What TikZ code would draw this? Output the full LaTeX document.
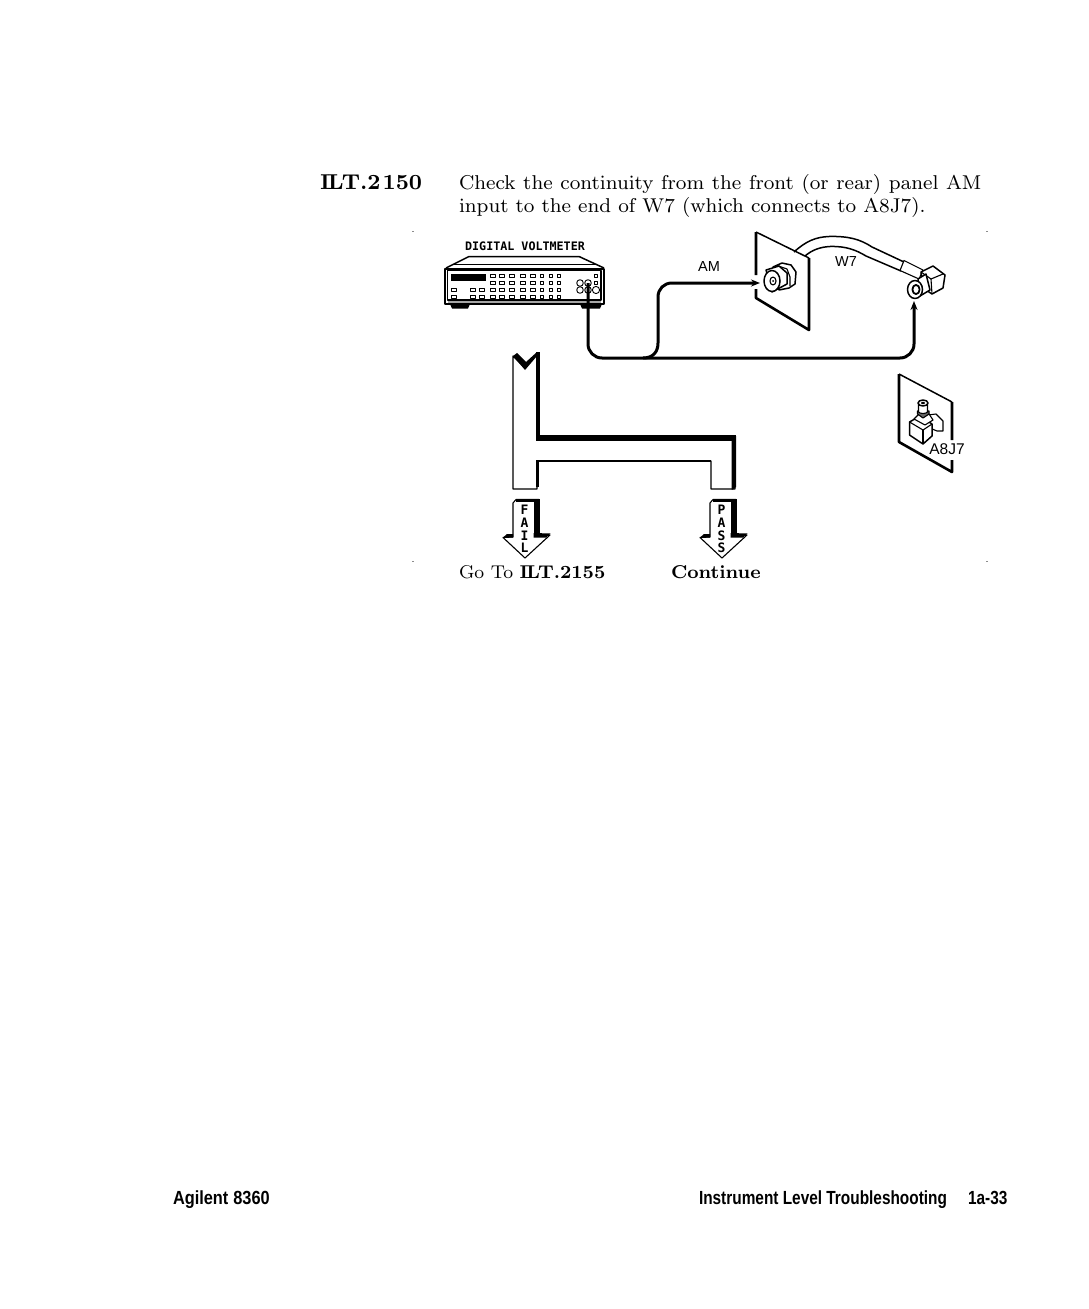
\documentclass[tikz,border=0pt]{standalone}
\usepackage{fontspec}
\usetikzlibrary{arrows.meta}
\newfontfamily\labelfont{Liberation Sans}
\newfontfamily\footfont[FakeStretch=0.81]{Liberation Sans}
\newfontfamily\footwide[FakeStretch=0.86]{Liberation Sans}
\newfontfamily\pixfont{DejaVu Sans Mono}
\font\bodyrm=cmr8 at 20pt
\font\headbf=cmbx8 at 21.5pt
\font\lowrm=cmr8 at 18.5pt
\font\lowbf=cmbx8 at 18.5pt
\newcommand{\tightILT}{I\kern-1.9ptL\kern-1.9ptT}
\tikzset{
  txt/.style={anchor=base west,inner sep=0pt,outer sep=0pt,text=black},
  bodytxt/.style={txt,font=\bodyrm},
  lab/.style={anchor=center,inner sep=0pt,font=\labelfont\fontsize{14.5}{15}\selectfont},
  foot/.style={txt,font=\footfont\bfseries\fontsize{19}{20}\selectfont},
  pix/.style={anchor=center,inner sep=0pt,font=\pixfont\bfseries\fontsize{13}{13}\selectfont},
  cable/.style={line width=3pt,rounded corners=14pt},
  branch/.style={line width=3pt},
  tipped/.style={-{Stealth[length=9pt,width=7pt]}},
  btn/.style={draw,line width=.9pt,fill=white,minimum width=5pt,minimum height=3.6pt,inner sep=0pt},
  hair/.style={line width=1.1pt},
  mid/.style={line width=1.5pt},
  panel/.style={line width=2.6pt},
  cropmark/.style={line width=.4pt,black!45}
}
\begin{document}
\begin{tikzpicture}[x=1pt,y=-1pt,line join=round]
\useasboundingbox[fill=white] (0,0) rectangle (1089,1309);
% text
\node[txt,font=\headbf] (ilt) at (320,189) {\tightILT.2\kern2pt150};
\node[bodytxt] (l1) at (459,189) {\spaceskip=7.63pt Check the continuity from the front (or rear) panel AM};
\node[bodytxt] (l2) at (459,212) {input to the end of W7 (which connects to A8J7).};
\node[txt,font=\lowrm] (go) at (459,578) {Go To \lowbf \tightILT.2155};
\node[txt,font=\lowbf] (cont) at (671,578) {Continue};
\node[foot,font=\footwide\bfseries\fontsize{19}{20}\selectfont] (f1) at (173,1204) {Agilent\kern5pt 8360};
\node[foot] (f2) at (699,1204) {Instrument Level Troubleshooting};
\node[foot] (f3) at (968,1204) {1a-33};
% crop marks
\draw[cropmark] (412,231)--(414,231) (986,231)--(988,231) (412,561)--(414,561) (986,561)--(988,561);
% voltmeter
\node[pix,font=\pixfont\bfseries\fontsize{11.7}{12}\selectfont] (dvm) at (525,246) {DIGITAL VOLTMETER};
\draw[mid] (446,268)--(469,256.5)--(579,256.5)--(604,268);
\draw[mid] (452,264.5)--(597,264.5);
\draw[line width=2pt,fill=white] (444.5,268.5) rectangle (604,304);
\draw[hair] (447.5,270.5) rectangle (601,300);
\fill[black!35] (448,300.5) rectangle (601,303);
\fill (450,304) -- (470,304) -- (468,308.5) -- (452,308.5) -- cycle;
\fill (580,304) -- (602,304) -- (600,308.5) -- (582,308.5) -- cycle;
\fill (451,274) rectangle (486,281);
\foreach \y in {276,283,290,297}{
  \foreach \x in {493,502,512,523,533}{\node[btn] at (\x,\y) {};}
  \foreach \x in {542,551,559}{\node[btn,minimum width=3.4pt] at (\x,\y) {};}
}
\foreach \y in {290,297}{
  \foreach \x in {454,473,482}{\node[btn] at (\x,\y) {};}
}
\node[btn,minimum width=3.4pt] at (596,276) {};
\node[btn,minimum width=3.4pt] at (596,283) {};
\foreach \x/\y in {580/283,588/283,580/290,588/290}{\draw[line width=.9pt] (\x,\y) circle (3.3pt);}
\draw[line width=.9pt] (596,290) circle (3.6pt);
% panel 1
\draw[panel] (756,232)--(756,275) (756,289)--(756,298)--(809,330)--(809,258);
\draw[mid] (756,232)--(809,258);
% W7 cable
\draw[mid] (794,252) .. controls (806,241) and (816,237) .. (829,236.5) .. controls (848,236) and (860,239) .. (872,247) -- (904,262);
\draw[mid] (805,256) .. controls (812,250) and (820,247) .. (830,246.5) .. controls (846,246) and (856,250) .. (866,256) -- (901,271);
\draw[hair,fill=white] (904,260.5) -- (923,270) -- (919,279) -- (900,270.5) -- cycle;
% BNC on panel 1
\draw[mid,fill=white] (773,267) -- (782,263) -- (791,265) -- (796,272) -- (795,284) -- (789,288) -- (779,290) -- cycle;
\draw[hair] (777,265.5) -- (787,269) -- (790,277) -- (790,286);
\draw[mid,fill=white] (766,270) -- (779,266) -- (787,273) -- (787,284) -- (772,292) -- cycle;
\draw[mid,fill=white] (772,281) ellipse (8pt and 10.5pt);
\draw[hair] (773,281) ellipse (3pt and 4pt);
\fill (773,281) circle (1pt);
% right-angle connector
\draw[mid,fill=white] (921,272) -- (933,266) -- (945,275) -- (943,288) -- (932,294) -- (923,288) -- cycle;
\draw[hair] (921,272) -- (931,279) -- (943,274);
\draw[hair] (931,279) -- (932,294);
\draw[mid,fill=white] (918,279) -- (926,274) -- (930,290) -- (920,296) -- cycle;
\draw[mid,fill=white] (915,289.5) ellipse (7.5pt and 9pt);
\draw[line width=1.8pt,fill=white] (916,289.5) ellipse (3.6pt and 4.6pt);
\node[lab] (am) at (709,267) {AM};
\node[lab] (w7) at (846,262) {W7};
% panel 2
\node[lab,font=\labelfont\fontsize{15.5}{16}\selectfont] (a8j7) at (947,449) {A8J7};
\draw[panel] (952,402)--(952,440) (952,460)--(952,472)--(899,442)--(899,374);
\draw[mid] (899,374)--(952,402);
\draw[hair,fill=white] (913,421) -- (920,416) -- (936,414) -- (943,421) -- (943,431) -- (937,431) -- cycle;
\draw[mid,fill=white] (909.5,422) -- (920,416) -- (932,424) -- (932,436) -- (923,444) -- (909.5,435) -- cycle;
\draw[hair] (909.5,422) -- (923,430) -- (932,424);
\draw[hair] (923,430) -- (923,444);
\draw[hair,fill=white] (914,419) -- (919,414) -- (929,414) -- (933,420) -- (925,425) -- cycle;
\draw[hair,fill=black!60] (917.5,414) -- (917.5,411) -- (929,411) -- (929,414) -- (923,418) -- cycle;
\draw[hair,fill=white] (918.5,403) -- (918.5,412) .. controls (920,414) and (926,414) .. (927.5,412) -- (927.5,403);
\draw[mid,fill=white] (923,403) ellipse (5pt and 3pt);
\fill (923,403) ellipse (2pt and 1.2pt);
% connectors
\coordinate (meterout) at (588,283);
\coordinate (bend) at (643,358);
\coordinate (inAM) at (760,283);
\coordinate (inW7) at (914,301);
\draw[cable,tipped] (meterout) -- (588,358) -- (914,358) -- (inW7);
\draw[branch,tipped] (bend) .. controls (653,358) and (658,352) .. (658,343) -- (658,297) .. controls (658,289) and (664,283) .. (672,283) -- (inAM);
% decision shape
\draw[hair,fill=white] (513,356) -- (525,368) -- (537,353) -- (537,438) -- (735,438) -- (735,489) -- (711,489) -- (711,461) -- (537,461) -- (537,489) -- (513,489) -- cycle;
\fill (513,356) -- (517,353) -- (526,362) -- (537,352) -- (537,356) -- (525,370) -- cycle;
\fill (535.5,352) rectangle (539.5,436);
\fill (535.5,435) rectangle (736,440.5);
\fill (731.5,436) -- (736,436) -- (736,487) -- (733,489.5) -- (731.5,489.5) -- cycle;
\fill (535.5,459.5) rectangle (711,461.5);
\fill (535.5,459.5) rectangle (539,487);
% outcome arrows
\foreach \n/\dx/\a/\b/\c/\d in {fail/0/F/A/I/L,pass/197/P/A/S/S}{
  \begin{scope}[xshift=\dx pt]
  \draw[hair,fill=white] (513,503) -- (516,499.5) -- (539,499.5) -- (539,535) -- (550,535) -- (525,558) -- (503,537.5) -- (513,537) -- cycle;
  \fill (516,499) rectangle (539.5,502);
  \fill (533.5,500) rectangle (539.5,535);
  \fill (533.5,533) -- (550.5,533.5) -- (546,537.5) -- (533.5,537.5) -- cycle;
  \fill (503,537.5) -- (507,534) -- (513,534) -- (513,537.5) -- cycle;
  \node[pix] (\n1) at (524.5,510) {\a};
  \node[pix] (\n2) at (524.5,523) {\b};
  \node[pix] (\n3) at (524.5,535.5) {\c};
  \node[pix] (\n4) at (524.5,548) {\d};
  \end{scope}
}
\end{tikzpicture}
\end{document}
